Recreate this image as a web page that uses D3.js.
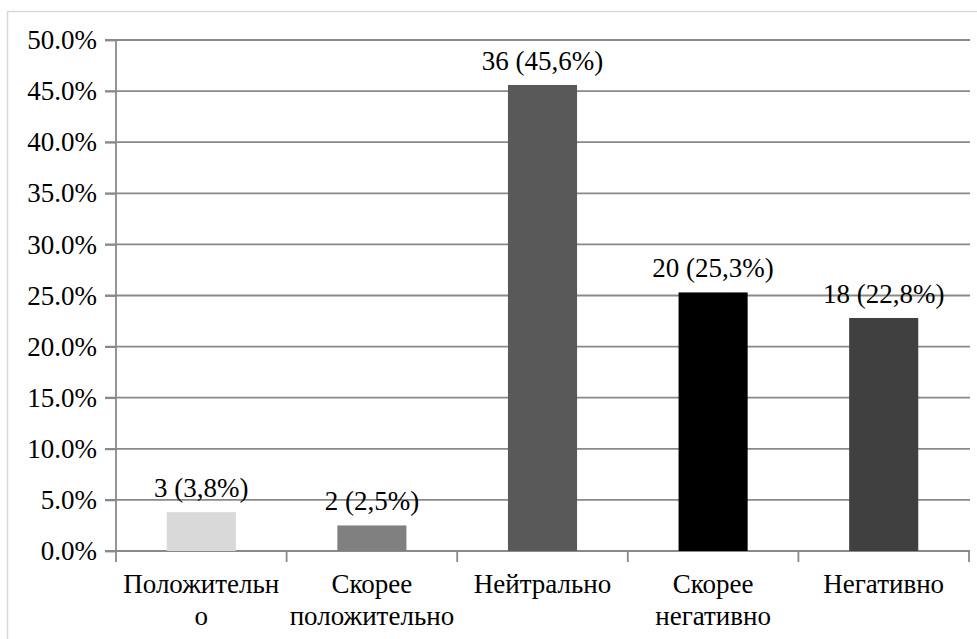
<!DOCTYPE html>
<html><head><meta charset="utf-8"><script src="https://cdn.jsdelivr.net/npm/d3@7"></script></head>
<body style="margin:0">
<svg id="s" width="977" height="639" style="font-family:'Liberation Serif';display:block"></svg>
<script>
// ---- data ----
const categories = ["Положительно", "Скорее положительно", "Нейтрально", "Скорее негативно", "Негативно"];
const categoryLines = [["Положительн", "о"], ["Скорее", "положительно"], ["Нейтрально"], ["Скорее", "негативно"], ["Негативно"]];
const counts = [3, 2, 36, 20, 18];
const percents = [3.8, 2.5, 45.6, 25.3, 22.8];
const barColors = ["#d9d9d9", "#808080", "#595959", "#000000", "#404040"];
const yTicks = [0, 5, 10, 15, 20, 25, 30, 35, 40, 45, 50];

(function () {
const W = 977, H = 639;
const mLeft = 116, mRight = 969, mTop = 40, mBottom = 551;
const fontSize = 27;
const gridColor = "#898989";
const FONT = '"Liberation Serif"';

const svg = d3.select("#s");

svg.append("rect")
  .attr("x", 7.5).attr("y", 11.5)
  .attr("width", W).attr("height", H)
  .attr("fill", "none").attr("stroke", "#d9d9d9").attr("stroke-width", 1.5);

const y = d3.scaleLinear().domain([0, 50]).range([mBottom, mTop]);
const x = d3.scaleBand().domain(categories).range([mLeft, mRight]).padding(0);
const barFrac = 0.405;

svg.append("g").selectAll("line").data(yTicks).join("line")
  .attr("x1", mLeft - 11).attr("x2", mRight + 1)
  .attr("y1", d => y(d)).attr("y2", d => y(d))
  .attr("stroke", gridColor).attr("stroke-width", 1.8);

const yAxis = d3.axisLeft(y).tickValues(yTicks)
  .tickFormat(d => d3.format(".1f")(d) + "%")
  .tickSize(11).tickPadding(8);
const gy = svg.append("g").attr("transform", `translate(${mLeft},0)`).call(yAxis);
gy.attr("font-family", null).attr("font-size", null);
gy.select(".domain").remove();
gy.selectAll(".tick line").attr("stroke", gridColor).attr("stroke-width", 1.8);
gy.selectAll(".tick text")
  .style("font-family", FONT).style("font-size", fontSize + "px").attr("fill", "#000");
svg.append("line")
  .attr("x1", mLeft).attr("x2", mLeft).attr("y1", mTop).attr("y2", mBottom + 11)
  .attr("stroke", gridColor).attr("stroke-width", 1.8);

const bounds = categories.map(c => x(c) + x.bandwidth());
svg.append("g").selectAll("line").data(bounds).join("line")
  .attr("x1", d => d).attr("x2", d => d)
  .attr("y1", mBottom).attr("y2", mBottom + 11)
  .attr("stroke", gridColor).attr("stroke-width", 1.8);

const bw = x.bandwidth() * barFrac;
svg.append("g").selectAll("rect").data(categories).join("rect")
  .attr("x", c => x(c) + (x.bandwidth() - bw) / 2)
  .attr("width", bw)
  .attr("y", (c, i) => y(percents[i]))
  .attr("height", (c, i) => y(0) - y(percents[i]))
  .attr("fill", (c, i) => barColors[i]);

svg.append("g").selectAll("text").data(categories).join("text")
  .attr("x", c => x(c) + x.bandwidth() / 2)
  .attr("y", (c, i) => y(percents[i]) - 15)
  .attr("text-anchor", "middle")
  .style("font-family", FONT)
  .style("font-size", fontSize + "px")
  .attr("fill", "#000")
  .text((c, i) => `${counts[i]} (${String(percents[i]).replace(".", ",")}%)`);

const cl = svg.append("g").selectAll("text").data(categories).join("text")
  .attr("x", c => x(c) + x.bandwidth() / 2)
  .attr("y", 593)
  .attr("text-anchor", "middle")
  .style("font-family", FONT)
  .style("font-size", fontSize + "px")
  .attr("fill", "#000");
cl.each(function(c, i) {
  const t = d3.select(this);
  categoryLines[i].forEach((ln, k) => {
    t.append("tspan").attr("x", x(c) + x.bandwidth() / 2).attr("dy", k === 0 ? 0 : 32).text(ln);
  });
});
})();
</script>
</body>
</html>
